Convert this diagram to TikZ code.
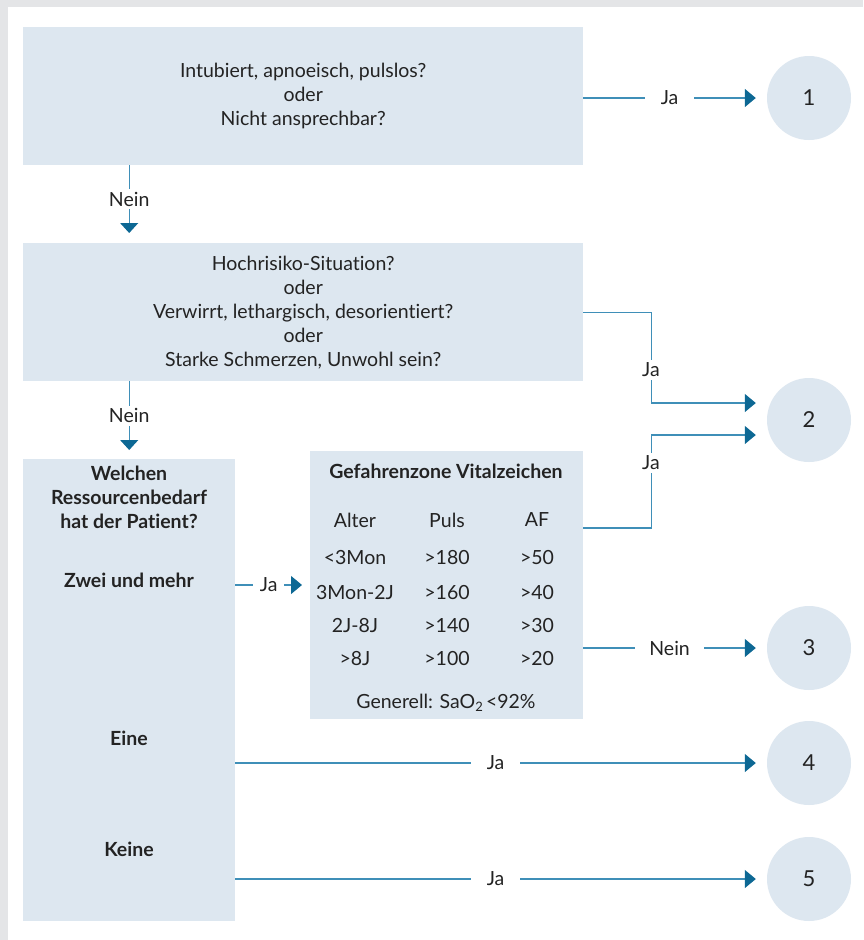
\documentclass[tikz,border=0pt]{standalone}
\usepackage{fontspec}
\setmainfont{Lato}[Ligatures=NoCommon]
\usetikzlibrary{arrows.meta}
\definecolor{boxfill}{HTML}{DDE7F0}
\definecolor{linec}{HTML}{3F8FB8}
\definecolor{tipc}{HTML}{0D6894}
\definecolor{txt}{HTML}{232323}
\definecolor{framec}{HTML}{E4E5E7}
\begin{document}
\begin{tikzpicture}[x=1pt,y=-1pt,
 every node/.style={text=txt, font=\fontsize{19.5}{24}\selectfont},
 box/.style={fill=boxfill, draw=none, anchor=north west, inner sep=0pt, align=center},
 circ/.style={circle, fill=boxfill, minimum size=84pt, inner sep=0pt, font=\fontsize{22}{24}\selectfont},
 conn/.style={draw=linec, line width=1.1pt, -{Triangle[length=11pt,width=18pt,color=tipc]}},
 vconn/.style={draw=linec, line width=1.1pt, -{Triangle[length=10pt,width=18pt,color=tipc]}},
 lbl/.style={fill=white, inner ysep=3pt},
 bld/.style={font=\fontsize{19.5}{24}\selectfont\bfseries, align=center}
]
\useasboundingbox (0,0) rectangle (863,940);
\fill[framec] (0,0) rectangle (863,940);
\fill[white] (8,7) rectangle (863,940);

\node[box, minimum width=560pt, minimum height=138pt] (q1) at (23,27)
  {Intubiert, apnoeisch, pulslos?\\oder\\Nicht ansprechbar?};
\node[box, minimum width=560pt, minimum height=138pt] (q2) at (23,243)
  {Hochrisiko-Situation?\\oder\\Verwirrt, lethargisch, desorientiert?\\oder\\Starke Schmerzen, Unwohl sein?};
\node[box, minimum width=212pt, minimum height=462pt] (lb) at (23,459) {};
\node[box, minimum width=273pt, minimum height=268pt] (vb) at (310,451) {};

\node[bld] (welchen) at (129,497) {Welchen\\Ressourcenbedarf\\hat der Patient?};
\node[bld] (zwei) at (129,580) {Zwei und mehr};
\node[bld] (eine) at (129,738) {Eine};
\node[bld] (keine) at (129,849) {Keine};

\node[bld] (title) at (446,471) {Gefahrenzone Vitalzeichen};
\node (h1) at (355,520) {Alter};
\node (h2) at (447,520) {Puls};
\node (h3) at (537,520) {AF};
\node (r11) at (355,558) {<3Mon};
\node (r12) at (447,558) {>180};
\node (r13) at (537,558) {>50};
\node (r21) at (355,593) {3Mon-2J};
\node (r22) at (447,593) {>160};
\node (r23) at (537,593) {>40};
\node (r31) at (355,626) {2J-8J};
\node (r32) at (447,626) {>140};
\node (r33) at (537,626) {>30};
\node (r41) at (355,659) {>8J};
\node (r42) at (447,659) {>100};
\node (r43) at (537,659) {>20};
\node (gen) at (446,703) {Generell: SaO\raisebox{-0.35ex}{\fontsize{13}{13}\selectfont 2}\,<92\%};

\node[circ] (c1) at (809,98) {1};
\node[circ] (c2) at (809,420) {2};
\node[circ] (c3) at (809,648) {3};
\node[circ] (c4) at (809,763) {4};
\node[circ] (c5) at (809,879) {5};

\coordinate (zy) at (0,585);
\path (vb.west |- zy) ++(-8,0) coordinate (zend);

\draw[vconn] (q1.south -| lb.north) -- node[lbl, inner xsep=2pt]{Nein} ([yshift=10pt]q2.north -| lb.north);
\draw[vconn] (q2.south -| lb.north) -- node[lbl, inner xsep=2pt]{Nein} ([yshift=9pt]lb.north);

\draw[conn] (q1.east |- c1) -- node[lbl, inner xsep=16pt]{Ja} ([xshift=-11pt]c1.west);
\draw[conn] (q2.east) -- ++(68,0) |- ([xshift=-11pt,yshift=17pt]c2.west);
\node[lbl, inner xsep=2pt] (ja2) at (651,370) {Ja};
\draw[conn] ([yshift=-77pt]vb.north east) -- ++(68,0) |- ([xshift=-11pt,yshift=-15pt]c2.west);
\node[lbl, inner xsep=2pt] (ja3) at (651,463) {Ja};
\draw[conn] (vb.east |- c3) -- node[lbl, inner xsep=14pt]{Nein} ([xshift=-11pt]c3.west);
\draw[conn] (lb.east |- zy) -- node[lbl, inner xsep=7pt]{Ja} (zend);
\draw[conn] (lb.east |- c4) -- node[lbl, inner xsep=16pt]{Ja} ([xshift=-11pt]c4.west);
\draw[conn] (lb.east |- c5) -- node[lbl, inner xsep=16pt]{Ja} ([xshift=-11pt]c5.west);
\end{tikzpicture}
\end{document}
